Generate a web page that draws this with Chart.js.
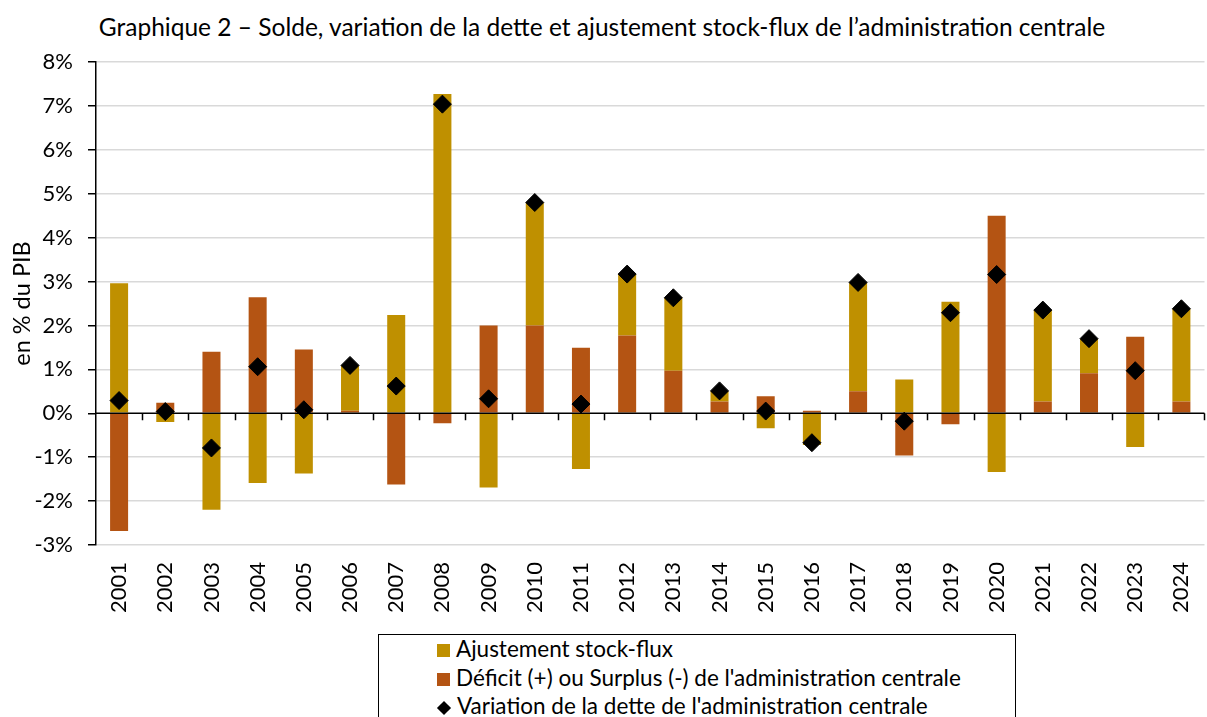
<!DOCTYPE html>
<html lang="fr">
<head>
  <meta charset="UTF-8" />
  <title>Graphique 2 - Solde, variation de la dette et ajustement stock-flux</title>
  <script src="https://cdn.jsdelivr.net/npm/chart.js"></script>
  <style>
    body { margin: 0; width: 1207px; height: 717px; overflow: hidden; background: #fff; font-family: Lato, "Open Sans", sans-serif; color: #000; position: relative; }
    #title { position: absolute; top: 12px; left: 0; width: 1204px; text-align: center; font-size: 24.5px; line-height: 30px; white-space: nowrap; }
    #wrap { position: absolute; left: 0; top: 0; width: 1217px; height: 615px; }
    #legend { position: absolute; left: 378px; top: 634px; width: 638px; height: 120px; border: 1.5px solid #000; box-sizing: border-box; padding-left: 58px; font-size: 22.5px; }
    #legend div { height: 28.5px; line-height: 28.5px; white-space: nowrap; }
    #legend span.box { display: inline-block; width: 13px; height: 13px; margin-right: 6px; vertical-align: 0px; }
    #legend span.dia { display: inline-block; width: 10px; height: 10px; margin: 0 8px 0 2px; background: #000; transform: rotate(45deg); vertical-align: 1px; }
  </style>
</head>
<body>

  <div id="title">Graphique 2 – Solde, variation de la dette et ajustement stock-flux de l’administration centrale</div>

  <div id="wrap"><canvas id="chart"></canvas></div>

  <!-- Légende -->
  <div id="legend">
    <div><span class="box" style="background:#BF9000"></span>Ajustement stock-flux</div>
    <div><span class="box" style="background:#B45413"></span>Déficit (+) ou Surplus (-) de l'administration centrale</div>
    <div><span class="dia"></span>Variation de la dette de l'administration centrale</div>
  </div>

  <script>
    const years = ['2001', '2002', '2003', '2004', '2005', '2006', '2007', '2008', '2009', '2010', '2011', '2012',
                   '2013', '2014', '2015', '2016', '2017', '2018', '2019', '2020', '2021', '2022', '2023', '2024'];

    // en % du PIB
    const ajustement = [2.96, -0.20, -2.20, -1.59, -1.37, 1.03, 2.24, 7.27, -1.69, 2.80, -1.27, 1.40,
                        1.66, 0.24, -0.34, -0.72, 2.48, 0.77, 2.54, -1.34, 2.08, 0.79, -0.77, 2.11];
    const deficit = [-2.68, 0.24, 1.40, 2.64, 1.45, 0.06, -1.62, -0.23, 2.00, 2.00, 1.49, 1.77,
                     0.97, 0.27, 0.39, 0.06, 0.50, -0.96, -0.25, 4.50, 0.27, 0.91, 1.74, 0.27];
    const variation = [0.29, 0.04, -0.79, 1.06, 0.08, 1.09, 0.62, 7.04, 0.33, 4.80, 0.21, 3.17,
                       2.63, 0.51, 0.05, -0.67, 2.98, -0.18, 2.29, 3.16, 2.35, 1.70, 0.97, 2.38];

    const yMin = -3;
    const yMax = 8;

    // ligne du zéro + petites graduations entre les années
    const zeroLine = {
      id: 'zeroLine',
      afterDatasetsDraw(chart) {
        const { ctx, chartArea, scales: { x, y } } = chart;
        const y0 = y.getPixelForValue(0);
        const step = x.getPixelForValue(1) - x.getPixelForValue(0);
        ctx.save();
        ctx.strokeStyle = '#000';
        ctx.lineWidth = 1.5;
        ctx.beginPath();
        ctx.moveTo(chartArea.left, y0);
        ctx.lineTo(chartArea.right, y0);
        for (let i = 1; i <= years.length; i++) {
          const xb = Math.round(x.getPixelForValue(i) - step / 2) + 0.5;
          ctx.moveTo(xb, y0);
          ctx.lineTo(xb, y0 + 7);
        }
        ctx.stroke();
        ctx.restore();
      }
    };

    new Chart(document.getElementById('chart').getContext('2d'), {
      data: {
        labels: years,
        datasets: [
          {
            type: 'bar',
            label: 'Ajustement stock-flux',
            data: ajustement,
            backgroundColor: '#BF9000',
            barPercentage: 0.39,
            categoryPercentage: 1,
            order: 2
          },
          {
            type: 'bar',
            label: "Déficit (+) ou Surplus (-) de l'administration centrale",
            data: deficit,
            backgroundColor: '#B45413',
            barPercentage: 0.39,
            categoryPercentage: 1,
            order: 1
          },
          {
            type: 'line',
            label: "Variation de la dette de l'administration centrale",
            data: variation,
            showLine: false,
            pointStyle: 'rectRot',
            pointRadius: 9,
            pointBackgroundColor: '#000',
            pointBorderColor: '#000',
            pointBorderWidth: 1,
            order: 0
          }
        ]
      },
      options: {
        responsive: true,
        maintainAspectRatio: false,
        animation: false,
        layout: { padding: { top: 62, left: 0, right: 0, bottom: 0 } },
        plugins: {
          legend: { display: false },
          tooltip: { enabled: false }
        },
        scales: {
          x: {
            stacked: true,
            grid: { display: false },
            border: { display: false },
            ticks: {
              color: '#000',
              font: { family: 'Lato', size: 22 },
              minRotation: 90,
              maxRotation: 90,
              padding: 9
            },
            afterFit(scale) { scale.height = 70; }
          },
          y: {
            stacked: true,
            min: yMin,
            max: yMax,
            grid: {
              color: ctx => ctx.tick && ctx.tick.value === 0 ? 'rgba(0,0,0,0)' : '#D9D9D9',
              lineWidth: 1.5,
              tickColor: '#000',
              tickLength: 8
            },
            border: { display: true, color: '#000', width: 1.5 },
            ticks: {
              stepSize: 1,
              color: '#000',
              font: { family: 'Lato', size: 22 },
              padding: 15,
              callback: v => v + '%'
            },
            title: {
              display: true,
              text: 'en % du PIB',
              color: '#000',
              font: { family: 'Lato', size: 23.5 },
              padding: { top: 8, bottom: 0 }
            },
            afterFit(scale) { scale.width = 96; }
          }
        }
      },
      plugins: [zeroLine]
    });
  </script>

</body>
</html>
